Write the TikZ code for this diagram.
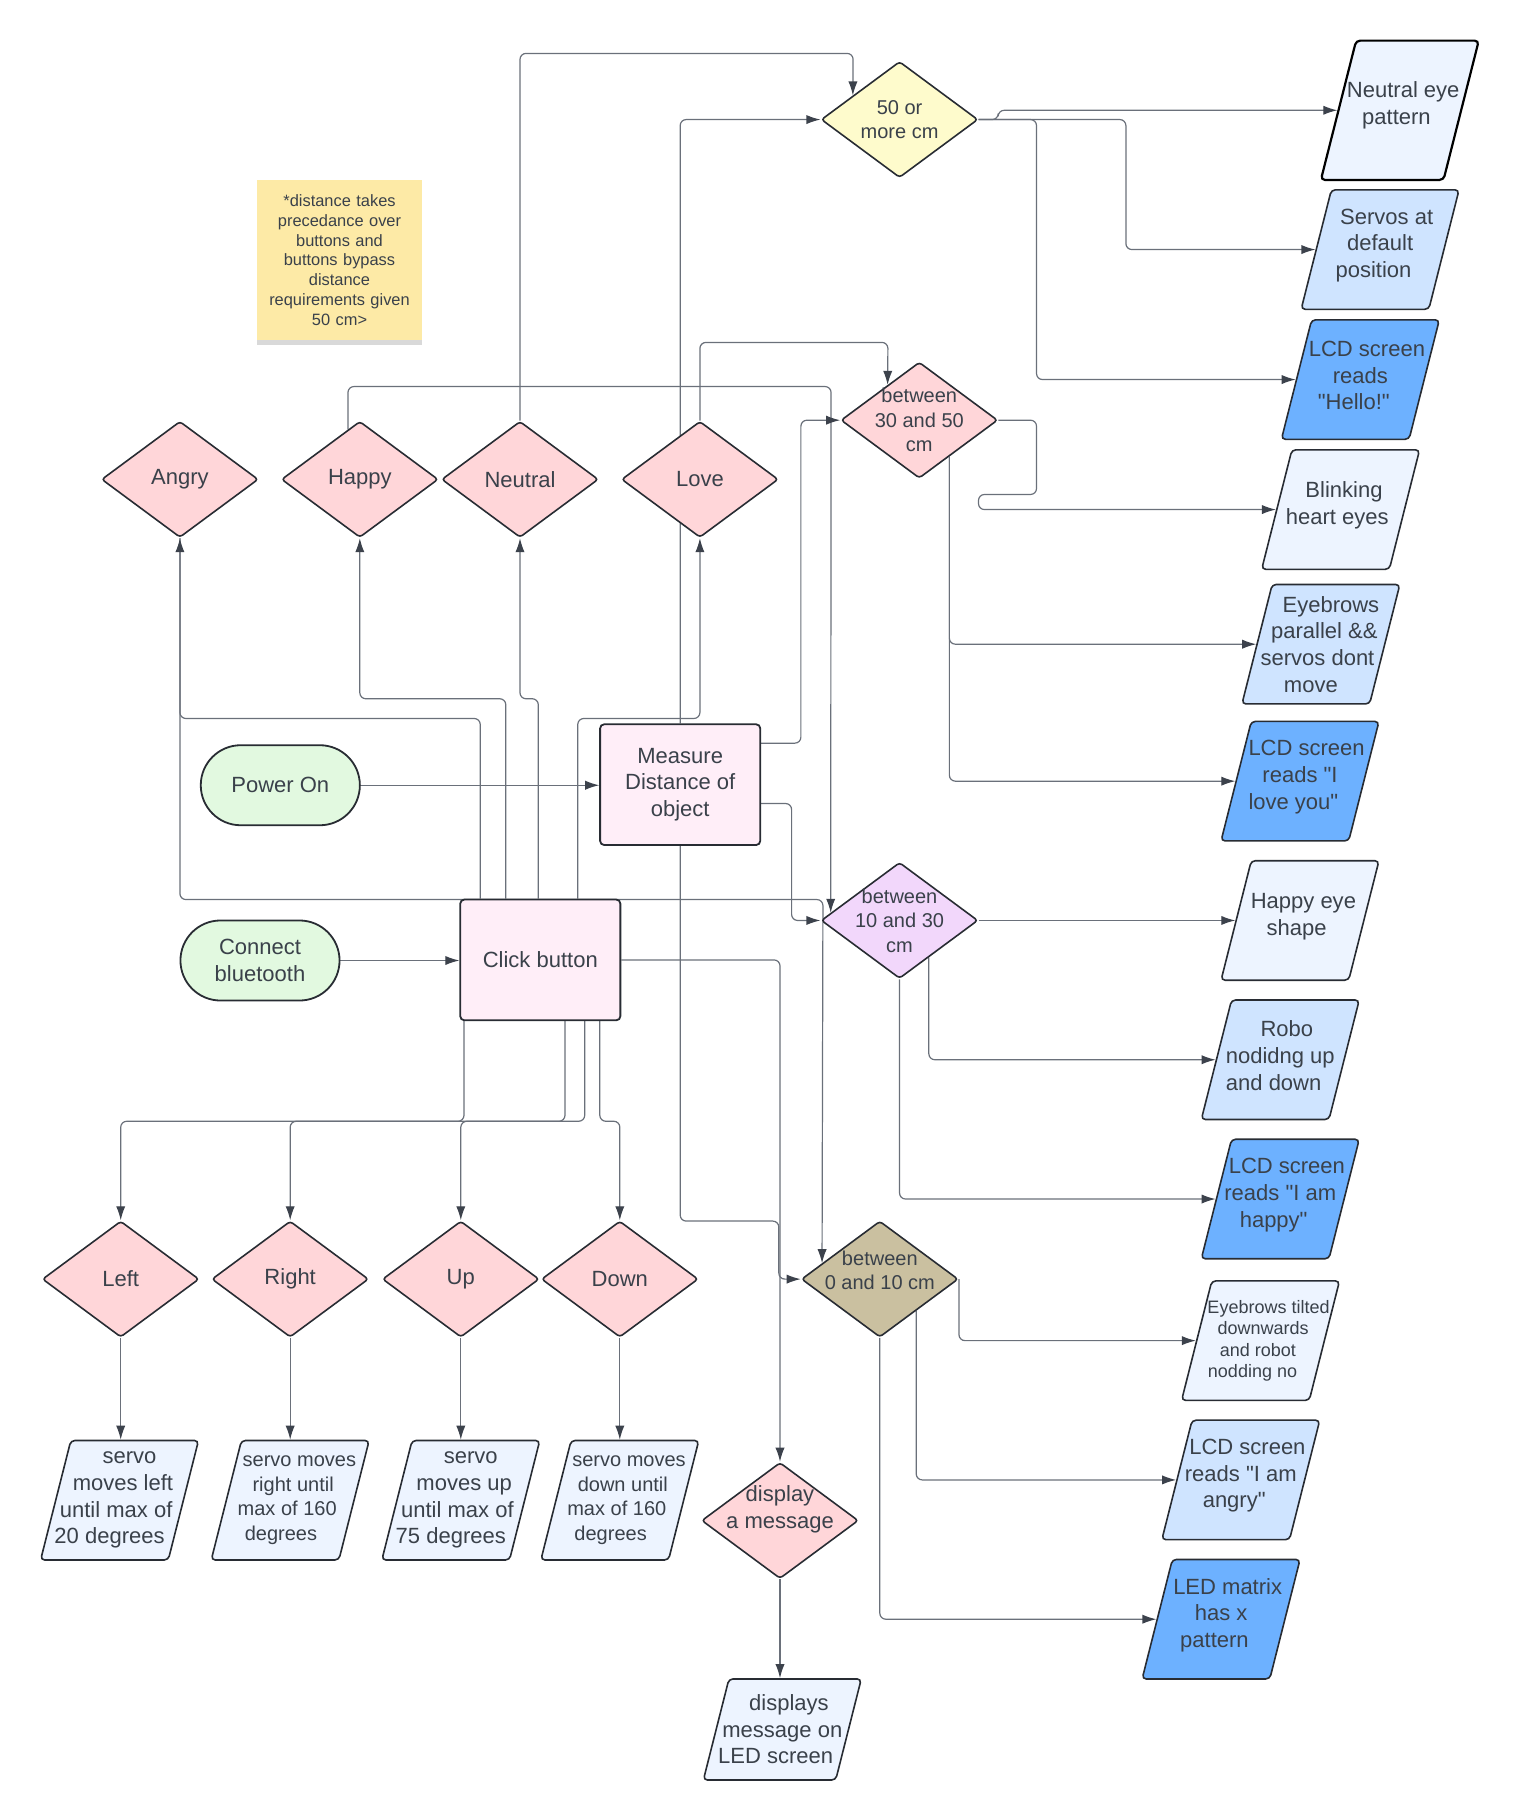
\documentclass[tikz,border=0pt]{standalone}
\usepackage{fontspec}
\setmainfont{Liberation Sans}[Ligatures=TeXOff]
\usepackage{xcolor}
\usepackage{tikz}
\usetikzlibrary{calc, shapes.geometric, shapes.misc, shadows, backgrounds, arrows.meta, positioning}

\definecolor{ink}{HTML}{282C33}
\definecolor{inkt}{HTML}{3A414A}
\definecolor{wire}{HTML}{6A707A}
\definecolor{tipc}{HTML}{3C424C}
\definecolor{pinkd}{HTML}{FFD6D9}
\definecolor{yelld}{HTML}{FEFBCC}
\definecolor{lilac}{HTML}{F2D7FB}
\definecolor{tand}{HTML}{CAC0A0}
\definecolor{boxf}{HTML}{FFEEF8}
\definecolor{ovalf}{HTML}{E2F9E0}
\definecolor{paleb}{HTML}{EDF4FF}
\definecolor{lightb}{HTML}{CFE4FF}
\definecolor{brightb}{HTML}{6DB1FF}
\definecolor{notef}{HTML}{FDEAA6}

\newcommand{\lsh}[2]{\makebox[0pt]{\hspace*{#1}#2\hspace*{-#1}}}

\begin{document}
\begin{tikzpicture}[x=0.58pt, y=-0.58pt,
  lbl/.style={align=center, text=inkt, font=\fontsize{11}{13.3}\selectfont, inner sep=0pt},
  small/.style={lbl, font=\fontsize{10}{12.2}\selectfont},
  dec/.style={diamond, draw=ink, line width=0.8pt, rounded corners=1.5pt, minimum width=78.3pt, minimum height=58pt, inner sep=0pt, fill=#1},
  io/.style={trapezium, trapezium left angle=75.8, trapezium right angle=104.2, trapezium stretches body, draw=ink, line width=0.8pt, rounded corners=2pt, text height=59.7pt, text depth=0pt, minimum width=78.9pt, inner sep=0pt, fill=#1},
  io/.default=paleb,
  proc/.style={rectangle, draw=ink, line width=0.9pt, rounded corners=2pt, fill=boxf, minimum width=80pt, minimum height=60.3pt, lbl},
  term/.style={rounded rectangle, draw=ink, line width=0.9pt, fill=ovalf, minimum width=79.5pt, minimum height=40pt, lbl},
  memo/.style={rectangle, fill=notef, minimum width=79.5pt, minimum height=80pt, text width=76pt, align=center, text=inkt, font=\fontsize{8.2}{9.9}\selectfont, drop shadow={shadow xshift=0pt, shadow yshift=-2.5pt, opacity=.25, fill=black!60}},
  conn/.style={draw=wire, line width=0.6pt, rounded corners=3pt, -{Latex[length=7pt,width=4.6pt,color=tipc]}}]
\useasboundingbox (0,0) rectangle (1310,1568);

\node[memo] (note) at (292.5,224) {*distance takes\\precedance over\\buttons and\\buttons bypass\\distance\\requirements given\\50 cm>};

\node[dec=yelld, label={[small]center:{50 or\\more cm}}] (d50) at (775,103) {};
\node[dec=pinkd, label={[small]center:{between\\30 and 50\\cm}}] (d3050) at (792,362) {};
\node[dec=lilac, label={[small]center:{between\\10 and 30\\cm}}] (d1030) at (775,793) {};
\node[dec=tand, label={[small,yshift=4.3pt]center:{between\\0 and 10 cm}}] (d010) at (758,1102) {};

\node[dec=pinkd, label={[lbl]center:Angry}] (angry) at (155,413) {};
\node[dec=pinkd, label={[lbl]center:Happy}] (happy) at (310,413) {};
\node[dec=pinkd, label={[lbl]center:Neutral}] (neutral) at (448,413) {};
\node[dec=pinkd, label={[lbl]center:Love}] (love) at (603,413) {};

\node[term] (power) at (241.5,676.5) {Power On};
\node[term] (bt) at (224,827.5) {Connect\\bluetooth};
\node[proc] (measure) at (586,676) {Measure\\Distance of\\object};
\node[proc] (click) at (465.5,827) {Click button};

\node[dec=pinkd, label={[lbl]center:Left}] (left) at (104,1102) {};
\node[dec=pinkd, label={[lbl]center:Right}] (right) at (250,1102) {};
\node[dec=pinkd, label={[lbl]center:Up}] (up) at (397,1102) {};
\node[dec=pinkd, label={[lbl]center:Down}] (down) at (534,1102) {};
\node[dec=pinkd, label={[lbl,yshift=5.5pt]center:{display\\a message}}] (dmsg) at (672,1310) {};

\node[io, label={[lbl]center:{\lsh{5pt}{servo}\\\lsh{1.7pt}{moves left}\\\lsh{-1.7pt}{until max of}\\\lsh{-5pt}{20 degrees}}}] (sleft) at (103,1292.5) {};
\node[io, label={[small]center:{\lsh{4.6pt}{servo moves}\\\lsh{1.5pt}{right until}\\\lsh{-1.5pt}{max of 160}\\\lsh{-4.6pt}{degrees}}}] (sright) at (250,1292.5) {};
\node[io, label={[lbl]center:{\lsh{5pt}{servo}\\\lsh{1.7pt}{moves up}\\\lsh{-1.7pt}{until max of}\\\lsh{-5pt}{75 degrees}}}] (sup) at (397,1292.5) {};
\node[io, label={[small]center:{\lsh{4.6pt}{servo moves}\\\lsh{1.5pt}{down until}\\\lsh{-1.5pt}{max of 160}\\\lsh{-4.6pt}{degrees}}}] (sdown) at (534,1292.5) {};
\node[io, text height=50.5pt, label={[lbl]center:{\lsh{3.3pt}{displays}\\message on\\\lsh{-3.3pt}{LED screen}}}] (smsg) at (674,1490) {};

\node[io, draw=black, line width=1.1pt, text height=69.6pt, label={[lbl,yshift=2.6pt]center:{\lsh{1.7pt}{Neutral eye}\\\lsh{-1.7pt}{pattern}}}] (neye) at (1206,95) {};
\node[io=lightb, label={[lbl,yshift=2pt]center:{\lsh{3.3pt}{Servos at}\\default\\\lsh{-3.3pt}{position}}}] (servo0) at (1189,215) {};
\node[io=brightb, label={[lbl,yshift=2pt]center:{\lsh{3.3pt}{LCD screen}\\reads\\\lsh{-3.3pt}{"Hello!"}}}] (hello) at (1172,327) {};
\node[io, label={[lbl,yshift=2pt]center:{\lsh{1.7pt}{Blinking}\\\lsh{-1.7pt}{heart eyes}}}] (heart) at (1155,439) {};
\node[io=lightb, label={[lbl]center:{\lsh{5pt}{Eyebrows}\\\lsh{1.7pt}{parallel \&\&}\\\lsh{-1.7pt}{servos dont}\\\lsh{-5pt}{move}}}] (brows) at (1138,555) {};
\node[io=brightb, label={[lbl,yshift=2pt]center:{\lsh{3.3pt}{LCD screen}\\reads "I\\\lsh{-3.3pt}{love you"}}}] (lovelcd) at (1120,673) {};
\node[io, label={[lbl,yshift=2pt]center:{\lsh{1.7pt}{Happy eye}\\\lsh{-1.7pt}{shape}}}] (heye) at (1120,793) {};
\node[io=lightb, label={[lbl,yshift=2pt]center:{\lsh{3.3pt}{Robo}\\nodidng up\\\lsh{-3.3pt}{and down}}}] (robo) at (1103,913) {};
\node[io=brightb, label={[lbl,yshift=2pt]center:{\lsh{3.3pt}{LCD screen}\\reads "I am\\\lsh{-3.3pt}{happy"}}}] (lhappy) at (1103,1033) {};
\node[io, label={[lbl,font=\fontsize{9}{10.7}\selectfont]center:{\lsh{4pt}{Eyebrows tilted}\\\lsh{1.3pt}{downwards}\\\lsh{-1.3pt}{and robot}\\\lsh{-4pt}{nodding no}}}] (tilted) at (1086,1155) {};
\node[io=lightb, label={[lbl,yshift=2pt]center:{\lsh{3.3pt}{LCD screen}\\reads "I am\\\lsh{-3.3pt}{angry"}}}] (langry) at (1069,1275) {};
\node[io=brightb, label={[lbl,yshift=2pt]center:{\lsh{3.3pt}{LED matrix}\\has x\\\lsh{-3.3pt}{pattern}}}] (ledx) at (1052,1395) {};

\begin{pgfonlayer}{background}
\draw[conn] (power.east) -- (power.east -| measure.west);
\draw[conn] (bt.east) -- (bt.east -| click.west);

\draw[conn] (neutral.north) |- (735,46) -- ($(d50.west)!.41!(d50.north)$);
\draw[conn] (measure.north) |- (d50.west);
\draw[conn] (love.north) |- (765,295) -- ($(d3050.west)!.6!(d3050.north)$);
\draw[conn] ($(happy.west)!.85!(happy.north)$) |- (716,333) -- ($(d1030.west)!.13!(d1030.north)$);
\draw[conn] ($(measure.north east)+(0,17)$) -| (690,362) -- (d3050.west);
\draw[conn] ($(measure.north east)+(0,69)$) -| (682,793) -- (d1030.west);
\draw[conn] (angry.south) |- (709,775) -- ($(d010.west)!.27!(d010.north)$);
\draw[conn] (measure.south) |- (671,1052) |- (d010.west);

\draw[conn] ($(click.north west)+(18,0)$) |- (155,619) -- (angry.south);
\draw[conn] ($(click.north west)+(40,0)$) |- (310,602) -- (happy.south);
\draw[conn] ($(click.north west)+(68,0)$) |- (448,602) -- (neutral.south);
\draw[conn] ($(click.north west)+(102,0)$) |- (603,619) -- (love.south);
\draw[conn] (click.east) -| (dmsg.north);

\draw[conn] ($(click.south west)+(4,0)$) |- (104,966) -- (left.north);
\draw[conn] ($(click.south west)+(91,0)$) |- (250,966) -- (right.north);
\draw[conn] ($(click.south west)+(108,0)$) |- (397,966) -- (up.north);
\draw[conn] ($(click.south west)+(121,0)$) |- (534,966) -- (down.north);

\draw[conn] (left.south) -- (left.south |- sleft.top side);
\draw[conn] (right.south) -- (right.south |- sright.top side);
\draw[conn] (up.south) -- (up.south |- sup.top side);
\draw[conn] (down.south) -- (down.south |- sdown.top side);
\draw[conn] (dmsg.south) -- (dmsg.south |- smsg.top side);

\draw[conn] (d50.east) -- (860,103) |- (neye.left side);
\draw[conn] (d50.east) -| (970,215) -- (servo0.left side);
\draw[conn] (d50.east) -| (893,327) -- (hello.left side);

\draw[conn] (d3050.east) -| (893,426) -| (843,439) -- (heart.left side);
\draw[conn] ($(d3050.east)!.62!(d3050.south)$) |- (brows.left side);
\draw[conn] ($(d3050.east)!.62!(d3050.south)$) |- (lovelcd.left side);

\draw[conn] (d1030.east) -- (heye.left side);
\draw[conn] ($(d1030.east)!.63!(d1030.south)$) |- (robo.left side);
\draw[conn] (d1030.south) |- (lhappy.left side);

\draw[conn] (d010.east) |- (tilted.left side);
\draw[conn] ($(d010.east)!.54!(d010.south)$) |- (langry.left side);
\draw[conn] (d010.south) |- (ledx.left side);
\end{pgfonlayer}
\end{tikzpicture}
\end{document}
